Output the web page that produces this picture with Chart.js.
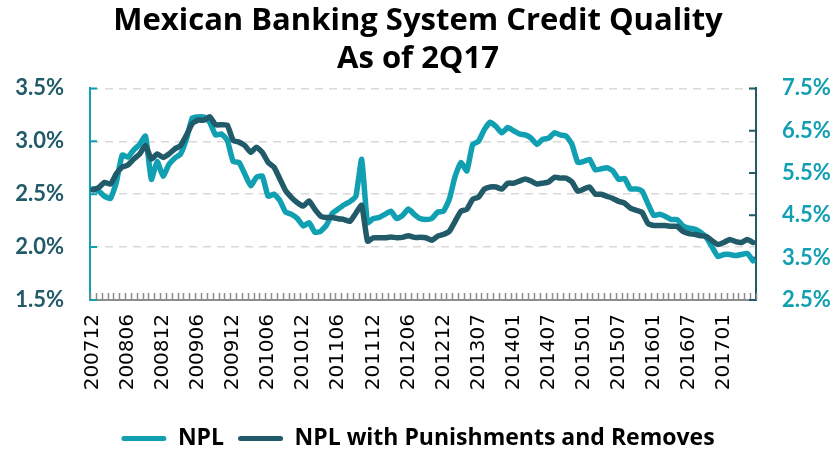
<!DOCTYPE html>
<html>
<head>
<meta charset="utf-8">
<script src="https://cdn.jsdelivr.net/npm/chart.js@4.4.1/dist/chart.umd.min.js"></script>
<style>
  html, body { margin: 0; padding: 0; background: #fff; }
  #wrap { width: 836px; height: 452px; }
</style>
</head>
<body>
<div id="wrap"><canvas id="creditChart" width="836" height="452"></canvas></div>
<script>
// Monthly periods (201301 is missing from the source series)
const categories = [
  '200712',
  '200801','200802','200803','200804','200805','200806','200807','200808','200809','200810','200811','200812',
  '200901','200902','200903','200904','200905','200906','200907','200908','200909','200910','200911','200912',
  '201001','201002','201003','201004','201005','201006','201007','201008','201009','201010','201011','201012',
  '201101','201102','201103','201104','201105','201106','201107','201108','201109','201110','201111','201112',
  '201201','201202','201203','201204','201205','201206','201207','201208','201209','201210','201211','201212',
  '201302','201303','201304','201305','201306','201307','201308','201309','201310','201311','201312',
  '201401','201402','201403','201404','201405','201406','201407','201408','201409','201410','201411','201412',
  '201501','201502','201503','201504','201505','201506','201507','201508','201509','201510','201511','201512',
  '201601','201602','201603','201604','201605','201606','201607','201608','201609','201610','201611','201612',
  '201701','201702','201703','201704','201705','201706'
];

// NPL ratio, % (left axis)
const nplValues = [
  2.55,
  2.53, 2.48, 2.46, 2.61, 2.87, 2.85, 2.92, 2.97, 3.05, 2.64, 2.81, 2.67,
  2.78, 2.84, 2.88, 3.02, 3.22, 3.23, 3.23, 3.18, 3.06, 3.07, 3.01, 2.81,
  2.80, 2.69, 2.58, 2.66, 2.67, 2.48, 2.50, 2.44, 2.33, 2.31, 2.27, 2.20,
  2.23, 2.14, 2.15, 2.21, 2.32, 2.36, 2.40, 2.43, 2.48, 2.83, 2.23, 2.27,
  2.28, 2.31, 2.34, 2.27, 2.30, 2.36, 2.31, 2.27, 2.26, 2.27, 2.33, 2.34,
  2.45, 2.67, 2.80, 2.72, 2.97, 3.00, 3.11, 3.18, 3.14, 3.08, 3.13,
  3.10, 3.07, 3.06, 3.03, 2.97, 3.02, 3.03, 3.08, 3.06, 3.05, 2.97, 2.80,
  2.81, 2.83, 2.73, 2.74, 2.75, 2.72, 2.64, 2.65, 2.55, 2.55, 2.53, 2.41,
  2.30, 2.31, 2.29, 2.26, 2.26, 2.20, 2.18, 2.17, 2.14, 2.09, 2.00, 1.91,
  1.93, 1.93, 1.92, 1.93, 1.94, 1.87
];

// NPL with punishments and removes, % (right axis)
const nplAdjValues = [
  5.10,
  5.16, 5.28, 5.24, 5.48, 5.64, 5.69, 5.83, 5.95, 6.15, 5.83, 5.95, 5.87,
  5.95, 6.07, 6.15, 6.39, 6.67, 6.75, 6.75, 6.83, 6.64, 6.64, 6.63, 6.27,
  6.23, 6.15, 5.99, 6.11, 5.99, 5.75, 5.64, 5.36, 5.08, 4.92, 4.80, 4.72,
  4.84, 4.64, 4.48, 4.45, 4.45, 4.42, 4.40, 4.36, 4.55, 4.74, 3.89, 3.97,
  3.97, 3.97, 3.99, 3.97, 3.98, 4.02, 3.98, 3.98, 3.97, 3.91, 4.01, 4.05,
  4.12, 4.36, 4.60, 4.64, 4.88, 4.93, 5.12, 5.17, 5.17, 5.12, 5.26,
  5.26, 5.31, 5.36, 5.31, 5.24, 5.26, 5.29, 5.40, 5.38, 5.38, 5.29, 5.07,
  5.12, 5.17, 5.00, 5.00, 4.95, 4.90, 4.83, 4.79, 4.67, 4.62, 4.57, 4.31,
  4.26, 4.26, 4.26, 4.24, 4.24, 4.12, 4.07, 4.05, 4.02, 4.00, 3.90, 3.81,
  3.86, 3.93, 3.88, 3.86, 3.93, 3.86
];

const TEAL = '#119fb2';
const DARK = '#215a68';
const AXIS_GRAY = '#8c8c8c';
const FONT = "Lato, 'Open Sans', sans-serif";
const WIDE_FONT = "'Open Sans', Lato, sans-serif";
const LABEL_EVERY = 6;

// small inward tick marks like the Excel original
const innerTicks = {
  id: 'innerTicks',
  beforeDatasetsDraw(chart) {
    const { ctx, chartArea, scales } = chart;
    const x = scales.x, y = scales.y, y2 = scales.y2;
    ctx.save();
    ctx.lineWidth = 1.5;

    ctx.strokeStyle = AXIS_GRAY;
    const half = (x.getPixelForValue(1) - x.getPixelForValue(0)) / 2;
    ctx.beginPath();
    for (let i = 0; i <= categories.length; i++) {
      const px = Math.round(x.getPixelForValue(i) - half) + 0.5;
      ctx.moveTo(px, chartArea.bottom);
      ctx.lineTo(px, chartArea.bottom - 7);
    }
    ctx.stroke();

    ctx.lineWidth = 2;
    ctx.strokeStyle = TEAL;
    ctx.beginPath();
    y.ticks.forEach(t => {
      const py = y.getPixelForValue(t.value);
      ctx.moveTo(chartArea.left, py);
      ctx.lineTo(chartArea.left + 7, py);
    });
    ctx.stroke();

    ctx.strokeStyle = DARK;
    ctx.beginPath();
    y2.ticks.forEach(t => {
      const py = y2.getPixelForValue(t.value);
      ctx.moveTo(chartArea.right, py);
      ctx.lineTo(chartArea.right - 7, py);
    });
    ctx.stroke();
    ctx.restore();
  }
};

const ctx = document.getElementById('creditChart').getContext('2d');

new Chart(ctx, {
  type: 'line',
  data: {
    labels: categories,
    datasets: [
      {
        label: 'NPL',
        data: nplValues,
        yAxisID: 'y',
        borderColor: TEAL,
        backgroundColor: TEAL,
        borderWidth: 5.5,
        pointRadius: 0,
        tension: 0.15,
        borderJoinStyle: 'round',
        borderCapStyle: 'round',
        order: 1
      },
      {
        label: 'NPL with Punishments and Removes',
        data: nplAdjValues,
        yAxisID: 'y2',
        borderColor: DARK,
        backgroundColor: DARK,
        borderWidth: 5.5,
        pointRadius: 0,
        tension: 0.15,
        borderJoinStyle: 'round',
        borderCapStyle: 'round',
        order: 0
      }
    ]
  },
  options: {
    responsive: false,
    animation: false,
    layout: { padding: { left: 0, right: 0, top: 0, bottom: -8 } },
    plugins: {
      title: {
        display: true,
        text: ['Mexican Banking System Credit Quality', 'As of 2Q17'],
        color: '#000',
        font: { family: WIDE_FONT, size: 31, weight: 'bold', lineHeight: 1.2 },
        padding: { top: 3, bottom: 11 }
      },
      legend: {
        position: 'bottom',
        labels: {
          color: '#000',
          font: { family: WIDE_FONT, size: 23, weight: 'bold' },
          boxWidth: 45,
          boxHeight: 5,
          padding: 14,
          generateLabels(chart) {
            return chart.data.datasets.map((ds, i) => ({
              text: ds.label,
              fillStyle: ds.borderColor,
              strokeStyle: ds.borderColor,
              lineWidth: 0,
              borderRadius: 2.5,
              fontColor: '#000',
              datasetIndex: i,
              hidden: false
            }));
          }
        }
      },
      tooltip: { enabled: false }
    },
    scales: {
      x: {
        offset: true,
        grid: { display: false, drawTicks: false, offset: true },
        border: { display: true, color: AXIS_GRAY, width: 2 },
        ticks: {
          autoSkip: false,
          minRotation: 90,
          maxRotation: 90,
          padding: 14,
          color: '#000',
          font: { family: "'DejaVu Sans'", size: 20 },
          callback(value, index) {
            return index % LABEL_EVERY === 0 ? categories[index] : '';
          }
        },
        afterFit(scale) {
          scale.height = scale.chart.height + 8 - 300 - scale.chart.legend.height;
        }
      },
      y: {
        position: 'left',
        min: 1.5,
        max: 3.5,
        grid: {
          drawTicks: false,
          color: ctx => (ctx.tick && ctx.tick.value === 1.5 ? 'rgba(0,0,0,0)' : '#d9d9d9'),
          lineWidth: 1.5
        },
        border: { display: true, color: TEAL, width: 2, dash: [8, 6] },
        ticks: {
          stepSize: 0.5,
          padding: 26,
          color: DARK,
          font: { family: FONT, size: 22, weight: 'bold' },
          callback: v => v.toFixed(1) + '%'
        },
        afterFit(scale) { scale.width = 90; }
      },
      y2: {
        position: 'right',
        min: 2.5,
        max: 7.5,
        grid: { drawOnChartArea: false, drawTicks: false },
        border: { display: true, color: DARK, width: 2 },
        ticks: {
          stepSize: 1,
          padding: 26,
          color: TEAL,
          font: { family: FONT, size: 22, weight: 'bold' },
          callback: v => v.toFixed(1) + '%'
        },
        afterFit(scale) { scale.width = 80; }
      }
    }
  },
  plugins: [innerTicks]
});
</script>
</body>
</html>
